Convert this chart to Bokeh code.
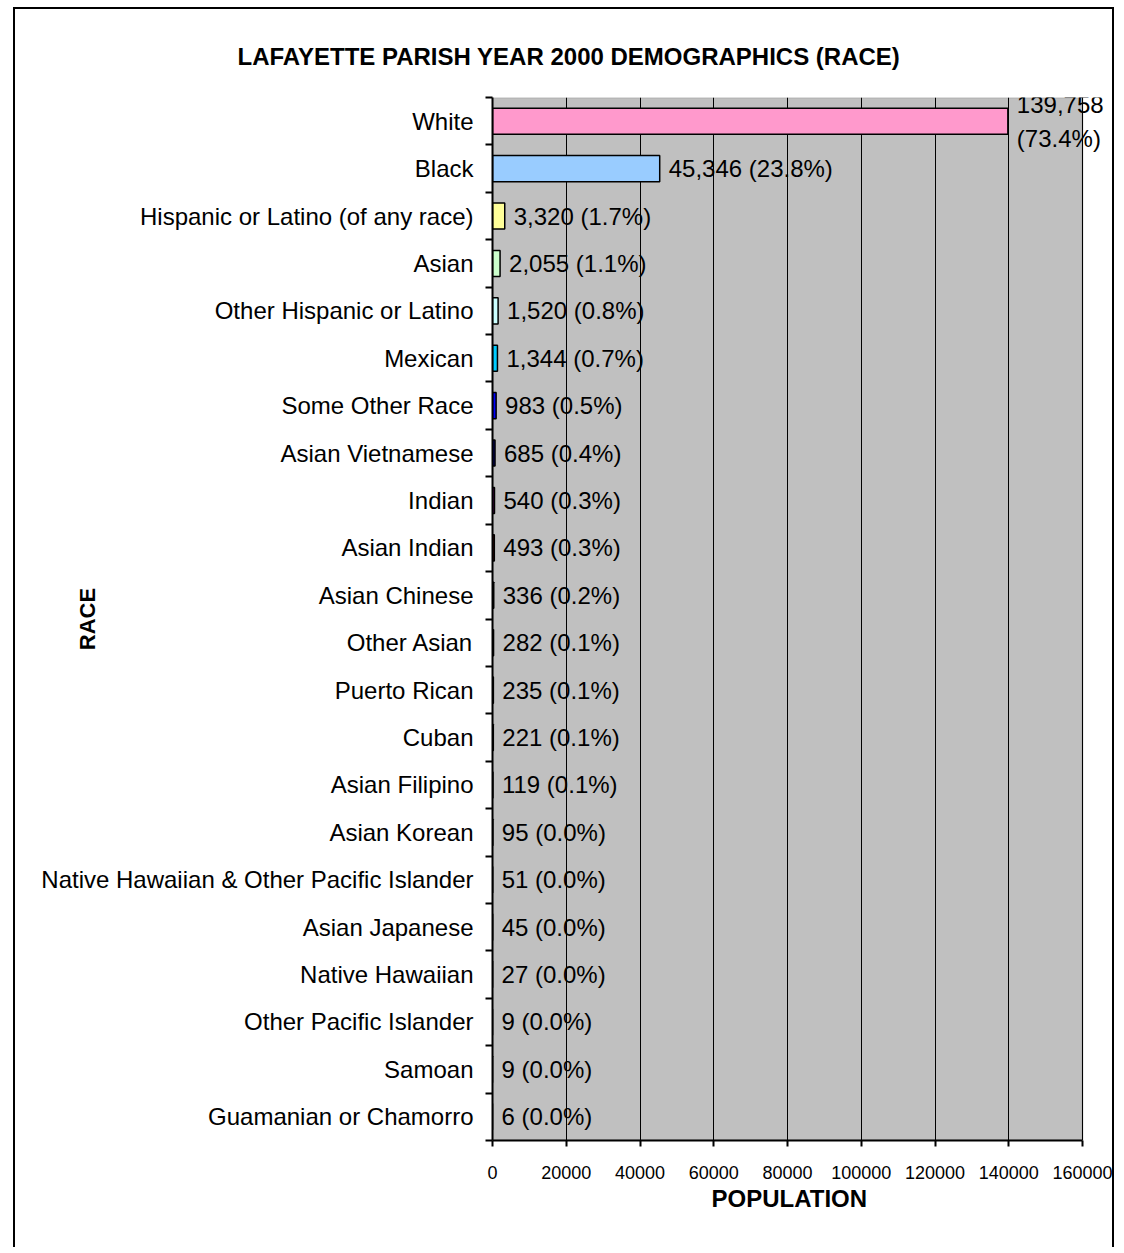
import numpy as np
from bokeh.plotting import figure
from bokeh.models import ColumnDataSource, FixedTicker, Range1d, NumeralTickFormatter, Title, BoxAnnotation
from bokeh.core.properties import value
from bokeh.embed import file_html
from bokeh.resources import INLINE

categories = ["White", "Black", "Hispanic or Latino (of any race)", "Asian",
              "Other Hispanic or Latino", "Mexican", "Some Other Race", "Asian Vietnamese",
              "Indian", "Asian Indian", "Asian Chinese", "Other Asian", "Puerto Rican",
              "Cuban", "Asian Filipino", "Asian Korean",
              "Native Hawaiian & Other Pacific Islander", "Asian Japanese",
              "Native Hawaiian", "Other Pacific Islander", "Samoan", "Guamanian or Chamorro"]
population = [139758, 45346, 3320, 2055, 1520, 1344, 983, 685, 540, 493, 336, 282,
              235, 221, 119, 95, 51, 45, 27, 9, 9, 6]
percent = [73.4, 23.8, 1.7, 1.1, 0.8, 0.7, 0.5, 0.4, 0.3, 0.3, 0.2, 0.1,
           0.1, 0.1, 0.1, 0.0, 0.0, 0.0, 0.0, 0.0, 0.0, 0.0]
colors = ["#FF99CC", "#99CCFF", "#FFFF99", "#CCFFCC", "#CCFFFF", "#00CCFF", "#0000FF",
          "#000080", "#800080", "#800000", "#008080", "#0000FF", "#FF00FF", "#FFFF00",
          "#00FFFF", "#800080", "#800000", "#008080", "#0000FF", "#CCFFFF", "#99CCFF",
          "#FF99CC"]
x_ticks = [0, 20000, 40000, 60000, 80000, 100000, 120000, 140000, 160000]

n = len(categories)
ypos = [n - i - 0.5 for i in range(n)]
labels = []
for v, pc in zip(population, percent):
    s = f"{v:,} ({pc:.1f}%)"
    if v > 100000:
        s = s.replace(" ", "\n")
    labels.append(s)

src = ColumnDataSource(dict(y=ypos, v=population, c=colors, lab=labels, cat=categories))

FONT = "Liberation Sans"
W, H = 1101, 1240
LEFT, TOP, BOTTOM = 477, 88, 109
PLOT_PX = 590                      # width of the grey plot area in pixels
frame_px = W - LEFT                 # frame runs to the right edge so labels may overflow
x_lo, x_hi = x_ticks[0], x_ticks[-1]
x_end = x_lo + (x_hi - x_lo) * frame_px / PLOT_PX

p = figure(width=W, height=H, output_backend="svg", toolbar_location=None,
           x_range=Range1d(x_lo, x_end), y_range=Range1d(0, n),
           min_border_left=LEFT, min_border_right=0, min_border_top=TOP, min_border_bottom=BOTTOM)
p.styles = {"margin-left": "13px", "margin-top": "7px",
            "border-top": "2px solid black", "border-left": "2px solid black",
            "border-right": "2px solid black"}
p.background_fill_color = "white"
p.border_fill_color = "white"
p.outline_line_color = None

p.add_layout(BoxAnnotation(left=x_lo, right=x_hi, fill_color="#C0C0C0", fill_alpha=1,
                           line_color="#808080", line_width=2, level="image"))

p.add_layout(Title(text="LAFAYETTE PARISH YEAR 2000 DEMOGRAPHICS (RACE)", align="left",
                   offset=-255, standoff=56, text_font=FONT, text_font_size="24px",
                   text_font_style="bold", text_color="black"), "above")

p.hbar(y="y", right="v", left=0, height=0.55, fill_color="c", line_color="black",
       line_width=1.5, source=src)
p.text(x="v", y="y", text="lab", x_offset=9, text_baseline="middle", text_align="left",
       text_font=value(FONT), text_font_size="24px", text_color="black",
       text_line_height=1.25, source=src)

# x axis
p.xaxis.ticker = FixedTicker(ticks=x_ticks)
p.xaxis.bounds = (x_lo, x_hi)
p.xaxis.formatter = NumeralTickFormatter(format="0")
p.xaxis.axis_line_width = 2
p.xaxis.axis_line_color = "black"
p.xaxis.major_tick_out = 6
p.xaxis.major_tick_in = 0
p.xaxis.major_tick_line_width = 2
p.xaxis.minor_tick_line_color = None
p.xaxis.major_label_text_font = FONT
p.xaxis.major_label_text_font_size = "18px"
p.xaxis.major_label_text_color = "black"
p.xaxis.major_label_standoff = 19

p.add_layout(Title(text="POPULATION", align="left", offset=219, standoff=2,
                   text_font=FONT, text_font_size="24px", text_font_style="bold",
                   text_color="black"), "below")

# y axis
boundaries = list(range(n + 1))
p.yaxis.ticker = FixedTicker(ticks=ypos, minor_ticks=boundaries)
p.yaxis.major_label_overrides = {y: c for y, c in zip(ypos, categories)}
p.yaxis.axis_line_width = 2
p.yaxis.axis_line_color = "black"
p.yaxis.major_tick_line_color = None
p.yaxis.major_tick_out = 7
p.yaxis.major_tick_in = 0
p.yaxis.minor_tick_out = 7
p.yaxis.minor_tick_in = 0
p.yaxis.minor_tick_line_width = 2
p.yaxis.minor_tick_line_color = "black"
p.yaxis.major_label_text_font = FONT
p.yaxis.major_label_text_font_size = "24px"
p.yaxis.major_label_text_color = "black"
p.yaxis.major_label_standoff = 12
p.yaxis.axis_label = "RACE"
p.yaxis.axis_label_text_font = FONT
p.yaxis.axis_label_text_font_size = "22px"
p.yaxis.axis_label_text_font_style = "bold"
p.yaxis.axis_label_text_color = "black"
p.yaxis.axis_label_standoff = -62

p.xgrid.ticker = FixedTicker(ticks=x_ticks)
p.xgrid.grid_line_color = "black"
p.xgrid.grid_line_width = 1
p.ygrid.grid_line_color = None

open("out.html", "w").write(file_html(p, INLINE))
